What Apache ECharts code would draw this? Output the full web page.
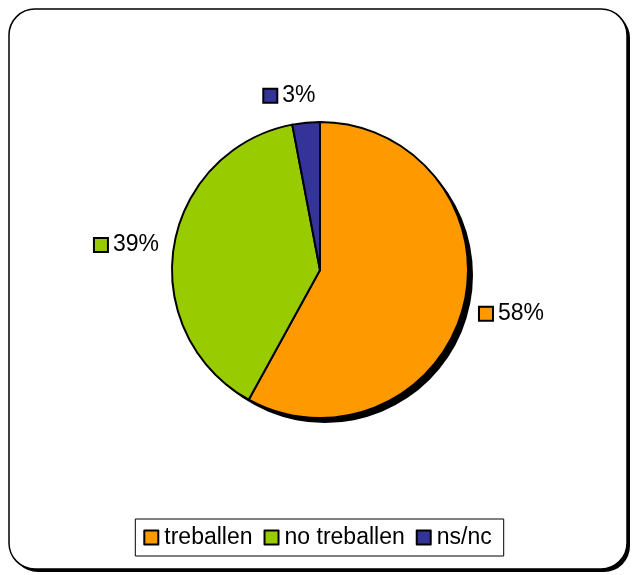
<!DOCTYPE html>
<html>
<head>
<meta charset="utf-8">
<script src="https://cdn.jsdelivr.net/npm/echarts@6/dist/echarts.min.js"></script>
<style>
html, body { margin: 0; padding: 0; background: #fff; }
#main { width: 635px; height: 575px; }
</style>
</head>
<body>
<div id="main"></div>
<script>
var categories = ['treballen', 'no treballen', 'ns/nc']
var values = [58, 39, 3]
var colors = ['#FF9900', '#99CC00', '#333399']

var chart = echarts.init(document.getElementById('main'))

var pieData = categories.map(function (c, i) {
  var item = { name: c, value: values[i], itemStyle: { color: colors[i] } }
  if (i === 2) item.labelLine = { length: 27 }
  return item
})

var rich = { t: { fontSize: 23, color: '#000', fontFamily: 'Liberation Sans, Arial', padding: [0, 0, 0, 6] } }
colors.forEach(function (c, i) {
  rich['s' + i] = { width: 12, height: 12, backgroundColor: c, borderColor: '#000', borderWidth: 2 }
})

// tweaks so labels sit where the original ones do
var labelShift = [{ dy: 4 }, { dx: 2 }, { dx: 17 }]

var option = {
  animation: false,
  color: colors,
  graphic: [
    {
      type: 'rect',
      shape: { x: 12, y: 12, width: 618, height: 560, r: 26 },
      style: { fill: '#000' },
      z: -11
    },
    {
      type: 'rect',
      shape: { x: 9, y: 9, width: 618, height: 560, r: 26 },
      style: { fill: '#fff', stroke: '#000', lineWidth: 1.5 },
      z: -10
    }
  ],
  legend: {
    data: categories,
    bottom: 19,
    left: 'center',
    icon: 'rect',
    itemWidth: 14,
    itemHeight: 14,
    itemGap: 11,
    padding: [7, 12, 7, 8],
    borderColor: '#000',
    borderWidth: 1,
    backgroundColor: '#fff',
    selectedMode: false,
    itemStyle: { borderColor: '#000', borderWidth: 2 },
    textStyle: { fontSize: 23, color: '#000', fontFamily: 'Liberation Sans, Arial', padding: [0, 0, 0, 1] }
  },
  series: [
    {
      // drop shadow
      type: 'pie',
      name: 'shadow',
      center: [325, 275],
      radius: 148,
      silent: true,
      label: { show: false },
      labelLine: { show: false },
      itemStyle: { color: '#000' },
      data: [{ name: '_shadow', value: 1 }],
      z: 1
    },
    {
      type: 'pie',
      name: 'main',
      center: [320, 270],
      radius: 148,
      startAngle: 90,
      clockwise: true,
      silent: true,
      itemStyle: { borderColor: '#000', borderWidth: 2 },
      label: {
        show: true,
        position: 'outside',
        formatter: function (p) { return '{s' + p.dataIndex + '|}{t|' + p.value + '%}' },
        rich: rich
      },
      labelLine: { show: false, length: 12, length2: 0 },
      labelLayout: function (p) { return labelShift[p.dataIndex] },
      data: pieData,
      z: 2
    }
  ]
}

chart.setOption(option)
</script>
</body>
</html>
